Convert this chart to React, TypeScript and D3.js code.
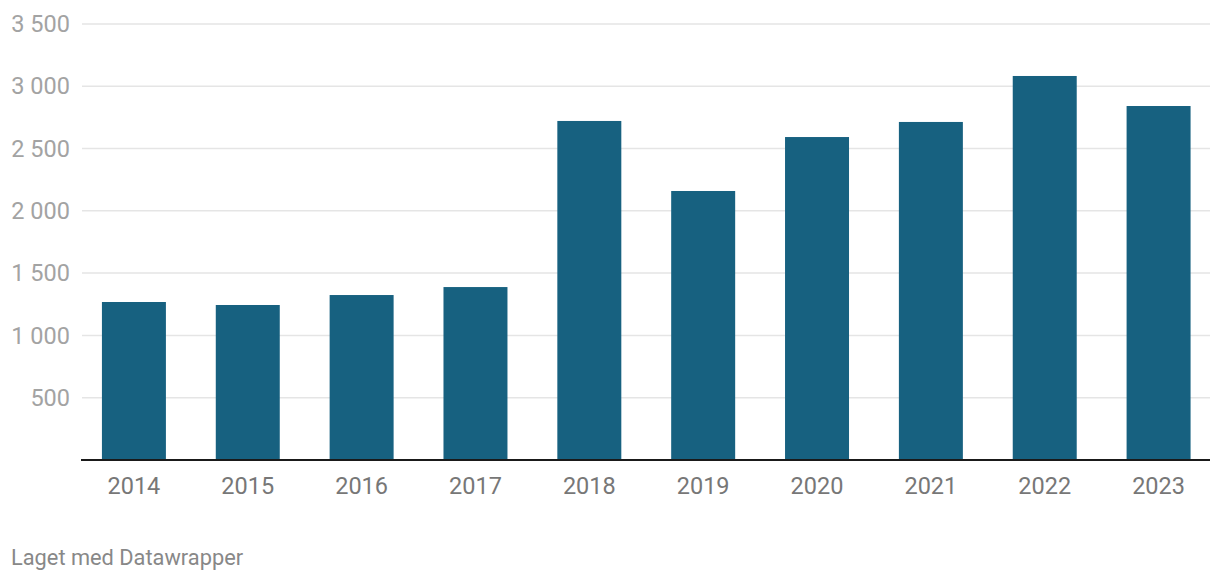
import React from "react";
import * as d3 from "d3";

const years = ["2014", "2015", "2016", "2017", "2018", "2019", "2020", "2021", "2022", "2023"];
const values = [1268, 1244, 1324, 1388, 2721, 2159, 2592, 2713, 3082, 2841];
const yTicks = [500, 1000, 1500, 2000, 2500, 3000, 3500];
const footer = "Laget med Datawrapper";

const W = 1220;
const H = 582;
const left = 81;
const right = 1210;
const top = 23.9;
const bottom = 460;

export default function App() {
  const x = d3.scaleBand<string>().domain(years).range([left + 1, right + 0.5]).paddingInner(0.438).paddingOuter(0.175);
  const y = d3.scaleLinear().domain([0, 3500]).range([bottom, top]);
  const fmt = (v: number) => d3.format(",")(v).replace(/,/g, " ");
  const font = "Roboto, 'Noto Sans', sans-serif";
  return (
    <svg width={W} height={H} style={{ position: "absolute", left: 0, top: 0, background: "#fff" }}>
      {yTicks.map((t) => (
        <g key={t}>
          <line x1={left + 1} x2={right} y1={y(t)} y2={y(t)} stroke="#e5e5e5" strokeWidth={1.5} />
          <text x={70} y={y(t)} dy="0.35em" textAnchor="end" fontFamily={font} fontSize={23.5} fill="#a3a3a3">
            {fmt(t)}
          </text>
        </g>
      ))}
      {years.map((yr, i) => (
        <rect key={yr} x={x(yr)} y={y(values[i])} width={x.bandwidth()} height={bottom - y(values[i])} fill="#176180" />
      ))}
      <line x1={left} x2={right} y1={bottom} y2={bottom} stroke="#1a1a1a" strokeWidth={2} />
      {years.map((yr) => (
        <text key={yr} x={(x(yr) as number) + x.bandwidth() / 2} y={494} textAnchor="middle" fontFamily={font} fontSize={23.5} fill="#777">
          {yr}
        </text>
      ))}
      <text x={11} y={565} fontFamily={font} fontSize={21.8} fill="#888">
        {footer}
      </text>
    </svg>
  );
}
